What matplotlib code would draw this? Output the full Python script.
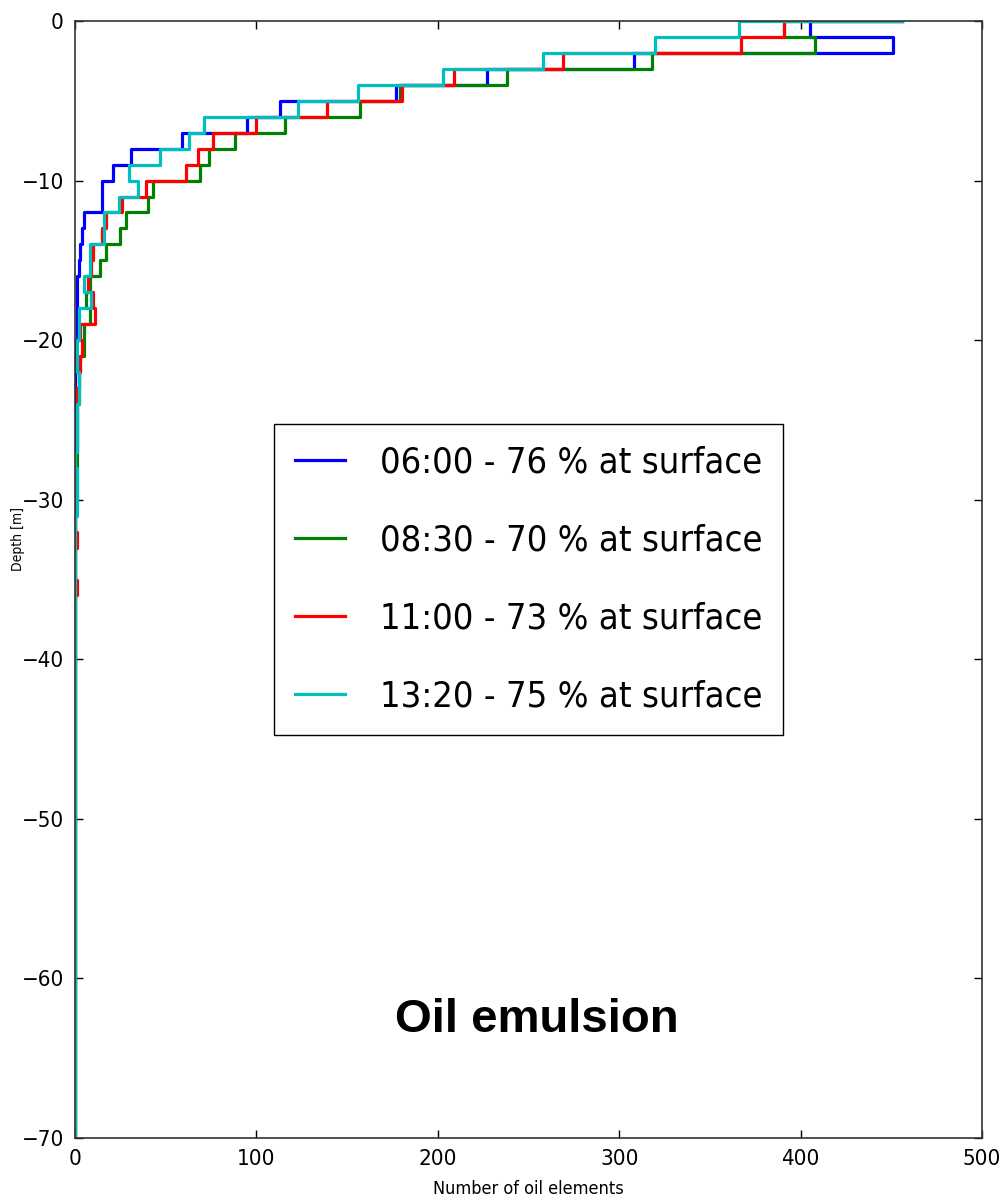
import numpy as np
import matplotlib
matplotlib.use("Agg")
import matplotlib.pyplot as plt
from matplotlib import font_manager as fm

# Number of oil elements in each 1 m depth bin, from the surface downwards
# (bin 0 = 0..-1 m, bin 1 = -1..-2 m, ...). Bins not listed are empty.
counts_0600 = [405, 451, 308, 227, 177, 113, 95, 59, 31, 21, 15, 15, 5, 4, 3, 2,
               1, 1, 1, 1]
counts_0830 = [391, 408, 318, 238, 179, 157, 116, 88, 74, 69, 43, 40, 28, 25, 17, 14,
               8, 6, 8, 5, 5, 3, 2, 2, 1, 1, 1, 1, 1, 1]
counts_1100 = [391, 367, 269, 209, 180, 139, 100, 76, 68, 61, 39, 26, 17, 15, 10, 9,
               7, 10, 11, 3, 4, 3, 2, 1, 1, 1, 1, 0, 0, 0, 0, 0, 1, 0, 0, 1]
counts_1320 = [366, 320, 258, 203, 156, 123, 71, 63, 47, 30, 35, 24, 16, 16, 8, 8,
               5, 9, 2, 2, 1, 1, 2, 2, 1, 1, 1, 0, 1, 1, 1]

# x value at which each outline starts on the surface line
surface_start = [456, 456, 456, 456]

series_labels = ["06:00 - 76 % at surface", "08:30 - 70 % at surface",
                 "11:00 - 73 % at surface", "13:20 - 75 % at surface"]
series_colors = ["#0000ff", "#008000", "#ff0000", "#00bfbf"]

max_depth = 70
x_ticks = [0, 100, 200, 300, 400, 500]
y_ticks = [0, -10, -20, -30, -40, -50, -60, -70]

avail = {f.name for f in fm.fontManager.ttflist}
if "Liberation Sans Narrow" in avail:
    narrow = dict(family="Liberation Sans Narrow")
else:
    narrow = dict(family="DejaVu Sans", stretch="condensed")

fig = plt.figure(figsize=(10, 12.04), dpi=100)
ax = fig.add_axes([0.075, 66 / 1204, 0.907, 1117 / 1204])

edges = -np.arange(max_depth + 1)
for counts, start, color, label in zip(
        [counts_0600, counts_0830, counts_1100, counts_1320],
        surface_start, series_colors, series_labels):
    c = np.zeros(max_depth)
    c[:len(counts)] = counts
    x = np.concatenate([[start], c, [c[-1]]])
    y = np.concatenate([[0], edges])
    ax.step(x, y, where="pre", color=color, lw=2.3, label=label)

ax.set_xlim(0, 500)
ax.set_ylim(-70, 0)
ax.set_xticks(x_ticks)
ax.set_yticks(y_ticks)
ax.tick_params(direction="in", top=True, right=True, length=6, width=1,
               labelsize=16, pad=8)
for lab in ax.get_xticklabels() + ax.get_yticklabels():
    lab.set(**narrow)
for sp in ax.spines.values():
    sp.set_linewidth(1.2)
    sp.set_color("#333333")

ax.set_xlabel("Number of oil elements", fontsize=13, labelpad=8, **narrow)
ax.set_ylabel("Depth [m]", fontsize=10, **narrow)
ax.yaxis.set_label_coords(-0.055, 0.536)

leg = ax.legend(loc="center", prop=dict(size=26, **narrow), handlelength=1.38,
                handletextpad=0.97, labelspacing=1.22, borderpad=0.58,
                fancybox=False, framealpha=1)
leg.get_frame().set_edgecolor("black")
leg.get_frame().set_linewidth(1.0)

ax.text(0.509, 0.106, "Oil emulsion", transform=ax.transAxes, ha="center",
        va="center", fontsize=34, fontweight="bold", family="Liberation Sans")

fig.savefig("out.png", dpi=100)
